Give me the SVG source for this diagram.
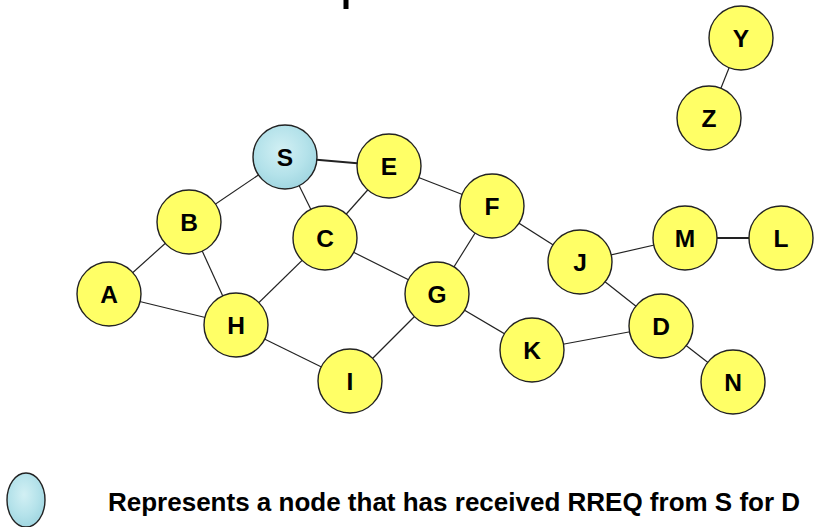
<svg xmlns="http://www.w3.org/2000/svg" width="814" height="527" viewBox="0 0 814 527">
  <style>
    .edge { stroke: #222; stroke-width: 1.2; fill: none; }
    .edge.thick { stroke-width: 2; }
    .node { fill: #ffff66; stroke: #222; stroke-width: 1.4; }
    .done { fill: url(#water); stroke: #222; stroke-width: 1.4; }
    .lbl { font-family: "Liberation Sans", Arial, sans-serif; font-weight: bold; font-size: 24.5px; fill: #000; text-anchor: middle; }
    .note { font-family: "Liberation Sans", Arial, sans-serif; font-weight: bold; font-size: 26px; fill: #000; }
  </style>
  <defs>
    <radialGradient id="water" cx="45%" cy="40%" r="65%">
      <stop offset="0" stop-color="#d2f0f4"/>
      <stop offset="0.6" stop-color="#b4e2ea"/>
      <stop offset="1" stop-color="#9dd4df"/>
    </radialGradient>
  </defs>
  <rect width="814" height="527" fill="#fff"/>
  <!-- clipped fragment of the heading -->
  <rect x="343.5" y="0" width="5" height="9" fill="#000"/>

  <g id="connectors">
    <line class="edge thick" x1="285" y1="157" x2="389" y2="166"/>
    <line class="edge" x1="285" y1="157" x2="189" y2="222"/>
    <line class="edge" x1="285" y1="157" x2="325" y2="238"/>
    <line class="edge" x1="389" y1="166" x2="325" y2="238"/>
    <line class="edge" x1="389" y1="166" x2="492" y2="206"/>
    <line class="edge" x1="189" y1="222" x2="109" y2="294"/>
    <line class="edge" x1="189" y1="222" x2="236" y2="325"/>
    <line class="edge" x1="109" y1="294" x2="236" y2="325"/>
    <line class="edge" x1="325" y1="238" x2="236" y2="325"/>
    <line class="edge" x1="325" y1="238" x2="437" y2="294"/>
    <line class="edge" x1="236" y1="325" x2="350" y2="381"/>
    <line class="edge" x1="350" y1="381" x2="437" y2="294"/>
    <line class="edge" x1="437" y1="294" x2="492" y2="206"/>
    <line class="edge" x1="437" y1="294" x2="532" y2="350"/>
    <line class="edge" x1="492" y1="206" x2="580" y2="262"/>
    <line class="edge" x1="580" y1="262" x2="685" y2="238"/>
    <line class="edge thick" x1="685" y1="238" x2="781" y2="238"/>
    <line class="edge" x1="580" y1="262" x2="661" y2="326"/>
    <line class="edge" x1="532" y1="350" x2="661" y2="326"/>
    <line class="edge" x1="661" y1="326" x2="733" y2="382"/>
    <line class="edge" x1="741" y1="38" x2="709" y2="118"/>
  </g>

  <g id="S"><circle class="done" cx="285" cy="157" r="32"/><text class="lbl" x="285" y="166">S</text></g>
  <g id="E"><circle class="node" cx="389" cy="166" r="32"/><text class="lbl" x="389" y="175">E</text></g>
  <g id="B"><circle class="node" cx="189" cy="222" r="32"/><text class="lbl" x="189" y="231">B</text></g>
  <g id="C"><circle class="node" cx="325" cy="238" r="32"/><text class="lbl" x="325" y="247">C</text></g>
  <g id="A"><circle class="node" cx="109" cy="294" r="32"/><text class="lbl" x="109" y="303">A</text></g>
  <g id="H"><circle class="node" cx="236" cy="325" r="32"/><text class="lbl" x="236" y="334">H</text></g>
  <g id="I"><circle class="node" cx="350" cy="381" r="32"/><text class="lbl" x="350" y="390">I</text></g>
  <g id="G"><circle class="node" cx="437" cy="294" r="32"/><text class="lbl" x="437" y="303">G</text></g>
  <g id="F"><circle class="node" cx="492" cy="206" r="32"/><text class="lbl" x="492" y="215">F</text></g>
  <g id="K"><circle class="node" cx="532" cy="350" r="32"/><text class="lbl" x="532" y="359">K</text></g>
  <g id="J"><circle class="node" cx="580" cy="262" r="32"/><text class="lbl" x="580" y="271">J</text></g>
  <g id="M"><circle class="node" cx="685" cy="238" r="32"/><text class="lbl" x="685" y="247">M</text></g>
  <g id="L"><circle class="node" cx="781" cy="238" r="32"/><text class="lbl" x="781" y="247">L</text></g>
  <g id="D"><circle class="node" cx="661" cy="326" r="32"/><text class="lbl" x="661" y="335">D</text></g>
  <g id="N"><circle class="node" cx="733" cy="382" r="32"/><text class="lbl" x="733" y="391">N</text></g>
  <g id="Y"><circle class="node" cx="741" cy="38" r="32"/><text class="lbl" x="741" y="47">Y</text></g>
  <g id="Z"><circle class="node" cx="709" cy="118" r="32"/><text class="lbl" x="709" y="127">Z</text></g>

  <g id="legend">
    <ellipse class="done" cx="26" cy="500" rx="19" ry="27"/>
    <text class="note" x="108" y="511">Represents a node that has received RREQ from S for D</text>
  </g>
</svg>
